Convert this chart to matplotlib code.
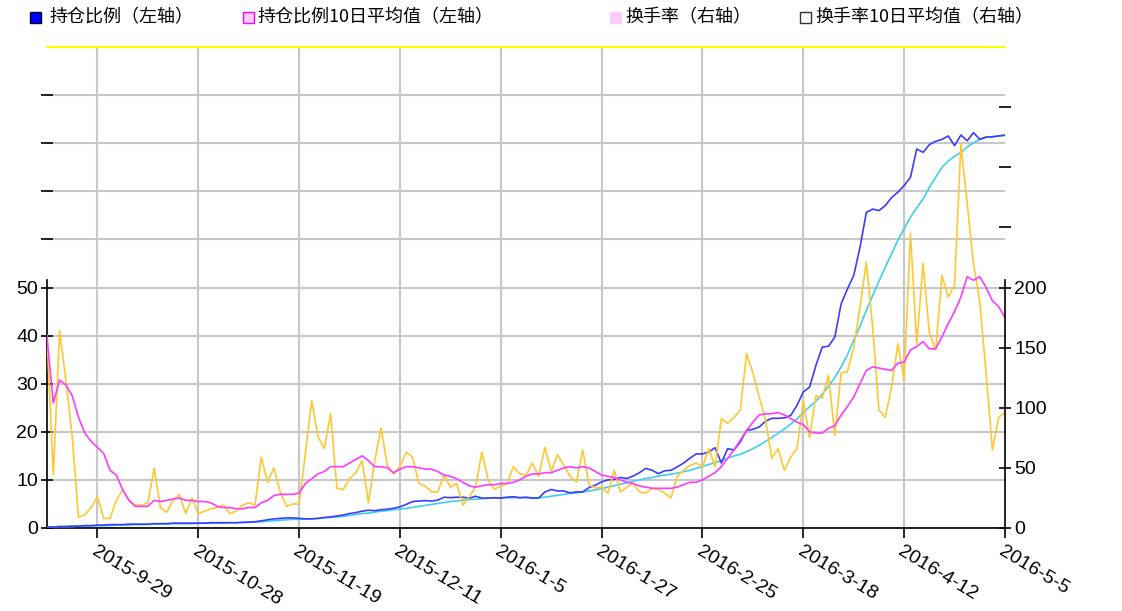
import matplotlib

matplotlib.use("Agg")
import matplotlib.pyplot as plt
from matplotlib.patches import Rectangle
from matplotlib.ticker import FuncFormatter

plt.rcParams["font.family"] = ["Liberation Sans", "DejaVu Sans"]

# x axis: trading days, labelled every 16 sessions
tick_pos = [8, 24, 40, 56, 72, 88, 104, 120, 136, 152]
tick_labels = ["2015-9-29", "2015-10-28", "2015-11-19", "2015-12-11", "2016-1-5",
               "2016-1-27", "2016-2-25", "2016-3-18", "2016-4-12", "2016-5-5"]

legend_labels = ["持仓比例（左轴）", "持仓比例10日平均值（左轴）",
                 "换手率（右轴）", "换手率10日平均值（右轴）"]

# left axis series
ratio = [
    0.2, 0.2, 0.3, 0.3, 0.4, 0.4, 0.5, 0.5, 0.6, 0.6,
    0.7, 0.7, 0.7, 0.8, 0.8, 0.8, 0.8, 0.9, 0.9, 0.9,
    1.0, 1.0, 1.0, 1.0, 1.0, 1.0, 1.1, 1.1, 1.1, 1.1,
    1.1, 1.2, 1.2, 1.3, 1.5, 1.7, 1.9, 2.0, 2.1, 2.1,
    2.0, 1.9, 1.9, 2.0, 2.2, 2.3, 2.5, 2.7, 3.0, 3.2,
    3.5, 3.7, 3.6, 3.8, 3.9, 4.1, 4.4, 4.9, 5.5, 5.6,
    5.7, 5.6, 5.8, 6.4, 6.3, 6.4, 6.4, 6.2, 6.6, 6.2,
    6.2, 6.3, 6.2, 6.4, 6.5, 6.3, 6.4, 6.2, 6.2, 7.5,
    8.0, 7.7, 7.7, 7.3, 7.5, 7.5, 8.4, 8.9, 9.6, 10.0,
    10.1, 10.5, 10.3, 10.8, 11.5, 12.4, 12.0, 11.3, 11.9, 12.0,
    12.7, 13.5, 14.5, 15.4, 15.4, 15.8, 16.7, 13.5, 16.5, 16.2,
    17.9, 20.3, 20.5, 21.0, 22.2, 22.8, 22.8, 22.9, 23.4, 25.5,
    28.3, 29.3, 33.8, 37.6, 37.8, 39.7, 46.6, 49.7, 52.5, 58.4,
    65.6, 66.3, 66.0, 67.0, 68.7, 69.8, 71.2, 72.9, 78.8, 78.1,
    79.7, 80.4, 80.8, 81.5, 79.5, 81.7, 80.5, 82.2, 80.8, 81.3,
    81.3, 81.5, 81.7,
]
ratio_ma = [
    0.2, 0.2, 0.3, 0.3, 0.3, 0.4, 0.4, 0.4, 0.5, 0.5,
    0.5, 0.6, 0.6, 0.6, 0.7, 0.7, 0.7, 0.8, 0.8, 0.8,
    0.9, 0.9, 0.9, 0.9, 1.0, 1.0, 1.0, 1.0, 1.0, 1.1,
    1.1, 1.1, 1.2, 1.2, 1.3, 1.4, 1.5, 1.6, 1.7, 1.8,
    1.8, 1.9, 1.9, 2.0, 2.1, 2.2, 2.3, 2.4, 2.6, 2.8,
    3.0, 3.1, 3.3, 3.5, 3.6, 3.8, 3.9, 4.1, 4.3, 4.5,
    4.7, 4.9, 5.1, 5.3, 5.5, 5.6, 5.8, 5.9, 6.0, 6.1,
    6.2, 6.2, 6.3, 6.3, 6.3, 6.3, 6.3, 6.3, 6.3, 6.4,
    6.6, 6.8, 7.0, 7.2, 7.3, 7.5, 7.7, 7.9, 8.2, 8.5,
    8.8, 9.1, 9.4, 9.7, 10.0, 10.3, 10.5, 10.8, 11.0, 11.2,
    11.4, 11.7, 12.0, 12.4, 12.8, 13.2, 13.6, 14.0, 14.5, 15.0,
    15.3, 15.9, 16.5, 17.2, 18.0, 18.8, 19.7, 20.6, 21.6, 22.7,
    24.0, 25.2, 26.4, 27.8, 29.5, 31.3, 33.5, 36.0, 39.0, 42.0,
    45.2, 48.3, 51.3, 54.2, 57.0, 59.8, 62.3, 64.6, 66.6, 68.4,
    70.8, 72.9, 75.0, 76.3, 77.3, 78.1, 79.2, 80.1, 80.8, 81.2,
    81.4, 81.5, 81.6,
]

# right axis series
turnover = [
    160, 44, 164, 123, 76, 9, 11, 17, 26, 8,
    8, 23, 32, 23, 19, 19, 21, 50, 17, 13,
    23, 28, 12, 25, 12, 14, 16, 17, 19, 12,
    14, 19, 21, 19, 59, 38, 50, 30, 18, 20,
    20, 62, 106, 76, 66, 95, 33, 32, 41, 46,
    56, 21, 56, 83, 52, 45, 51, 63, 59, 37,
    35, 30, 30, 44, 34, 37, 19, 26, 34, 63,
    40, 32, 35, 37, 51, 45, 44, 54, 43, 67,
    47, 61, 52, 43, 38, 65, 36, 33, 34, 29,
    48, 30, 34, 37, 30, 29, 33, 32, 29, 25,
    43, 48, 52, 54, 51, 66, 51, 91, 87, 92,
    98, 145, 129, 109, 90, 58, 66, 48, 59, 66,
    106, 75, 110, 108, 127, 77, 129, 130, 150, 184,
    221, 167, 98, 92, 117, 153, 123, 245, 153, 220,
    162, 148, 210, 192, 202, 319, 270, 220, 188, 129,
    65, 92, 96,
]
turnover_ma = [
    159, 104, 123, 119, 110, 92, 79, 72, 67, 62,
    48, 44, 32, 23, 18, 18, 18, 23, 22, 23,
    24, 25, 23, 23, 22, 22, 21, 18, 17, 17,
    16, 16, 17, 17, 21, 23, 27, 28, 28, 28,
    29, 37, 41, 45, 47, 51, 51, 51, 54, 57,
    60, 56, 51, 51, 50, 46, 49, 51, 51, 50,
    49, 49, 47, 44, 43, 41, 38, 35, 34, 35,
    36, 36, 37, 37, 38, 40, 43, 45, 45, 46,
    46, 48, 50, 51, 50, 51, 50, 47, 44, 43,
    42, 40, 38, 37, 35, 34, 33, 33, 33, 33,
    34, 36, 38, 38, 40, 43, 46, 51, 58, 65,
    73, 81, 88, 94, 95, 95, 96, 94, 91, 88,
    86, 80, 79, 79, 83, 85, 94, 101, 109, 120,
    131, 134, 133, 132, 131, 137, 138, 148, 151, 155,
    149, 149, 159, 170, 180, 192, 209, 206, 209, 200,
    189, 184, 175,
]

W, H = 1122, 611
GRID = "#c8c8c8"
fig = plt.figure(figsize=(W / 100, H / 100), dpi=100)
ax = fig.add_axes([47 / W, (H - 528) / H, 958 / W, 481 / H])
ax2 = ax.twinx()

x = list(range(len(ratio)))
ax.plot(x, ratio_ma, color="#3fcdf0", lw=1.2, zorder=3)
ax.plot(x, ratio, color="#3c3cff", lw=1.2, zorder=4)
ax2.plot(x, turnover, color="#ffc832", lw=1.2)
ax2.plot(x, turnover_ma, color="#ff3cff", lw=1.2)

ax.set_xlim(0, 152)
ax.set_ylim(0, 100)
ax2.set_ylim(0, 400)

# grid: horizontal every 10 (left units), vertical at the date ticks
ax.set_axisbelow(True)
ax.set_yticks(range(0, 100, 10))
ax.yaxis.grid(True, color=GRID, lw=1.5)
for t in tick_pos[:-1]:
    ax.axvline(t, color=GRID, lw=1.5, zorder=0)

ax.yaxis.set_major_formatter(FuncFormatter(lambda v, p: f"{v:.0f}" if v <= 50 else ""))
ax2.set_yticks(range(0, 400, 50))
ax2.yaxis.set_major_formatter(FuncFormatter(lambda v, p: f"{v:.0f}" if v <= 200 else ""))

ax.set_xticks(tick_pos)
ax.set_xticklabels(tick_labels, rotation=-31, ha="left", va="top", rotation_mode="anchor")

ax.tick_params(axis="x", direction="out", length=7, width=1.2, labelsize=14, pad=4)
ax.tick_params(axis="y", direction="inout", length=9, width=1.2, labelsize=14, pad=2)
ax2.tick_params(axis="y", direction="inout", length=9, width=1.2, labelsize=14, pad=2)

for s in ("right",):
    ax.spines[s].set_visible(False)
for s in ("top", "left", "bottom"):
    ax2.spines[s].set_visible(False)
ax.spines["left"].set_bounds(0, 51.5)
ax.spines["left"].set_linewidth(1.2)
ax.spines["bottom"].set_linewidth(1.2)
ax.spines["top"].set_color("#ffff00")
ax.spines["top"].set_linewidth(1.5)
ax2.spines["right"].set_bounds(0, 206)
ax2.spines["right"].set_linewidth(1.2)

# legend across the top, placed by pixel
keys = [
    (30, 50, dict(facecolor="#0000ff", edgecolor="#000033")),
    (243, 258, dict(facecolor="#ffccff", edgecolor="#ff00ff")),
    (610, 625, dict(facecolor="#ffccff", edgecolor="#ffccff")),
    (800, 815, dict(facecolor="white", edgecolor="#333333")),
]
for (mx, tx, style), label in zip(keys, legend_labels):
    fig.patches.append(Rectangle((mx / W, (H - 23) / H), 11 / W, 11 / H,
                                 transform=fig.transFigure, lw=1, **style))
    fig.text(tx / W, (H - 17) / H, label, fontsize=13, va="center", ha="left",
             family=["Noto Sans CJK SC", "DejaVu Sans"])

fig.savefig("out.png", dpi=100)
plt.close(fig)
